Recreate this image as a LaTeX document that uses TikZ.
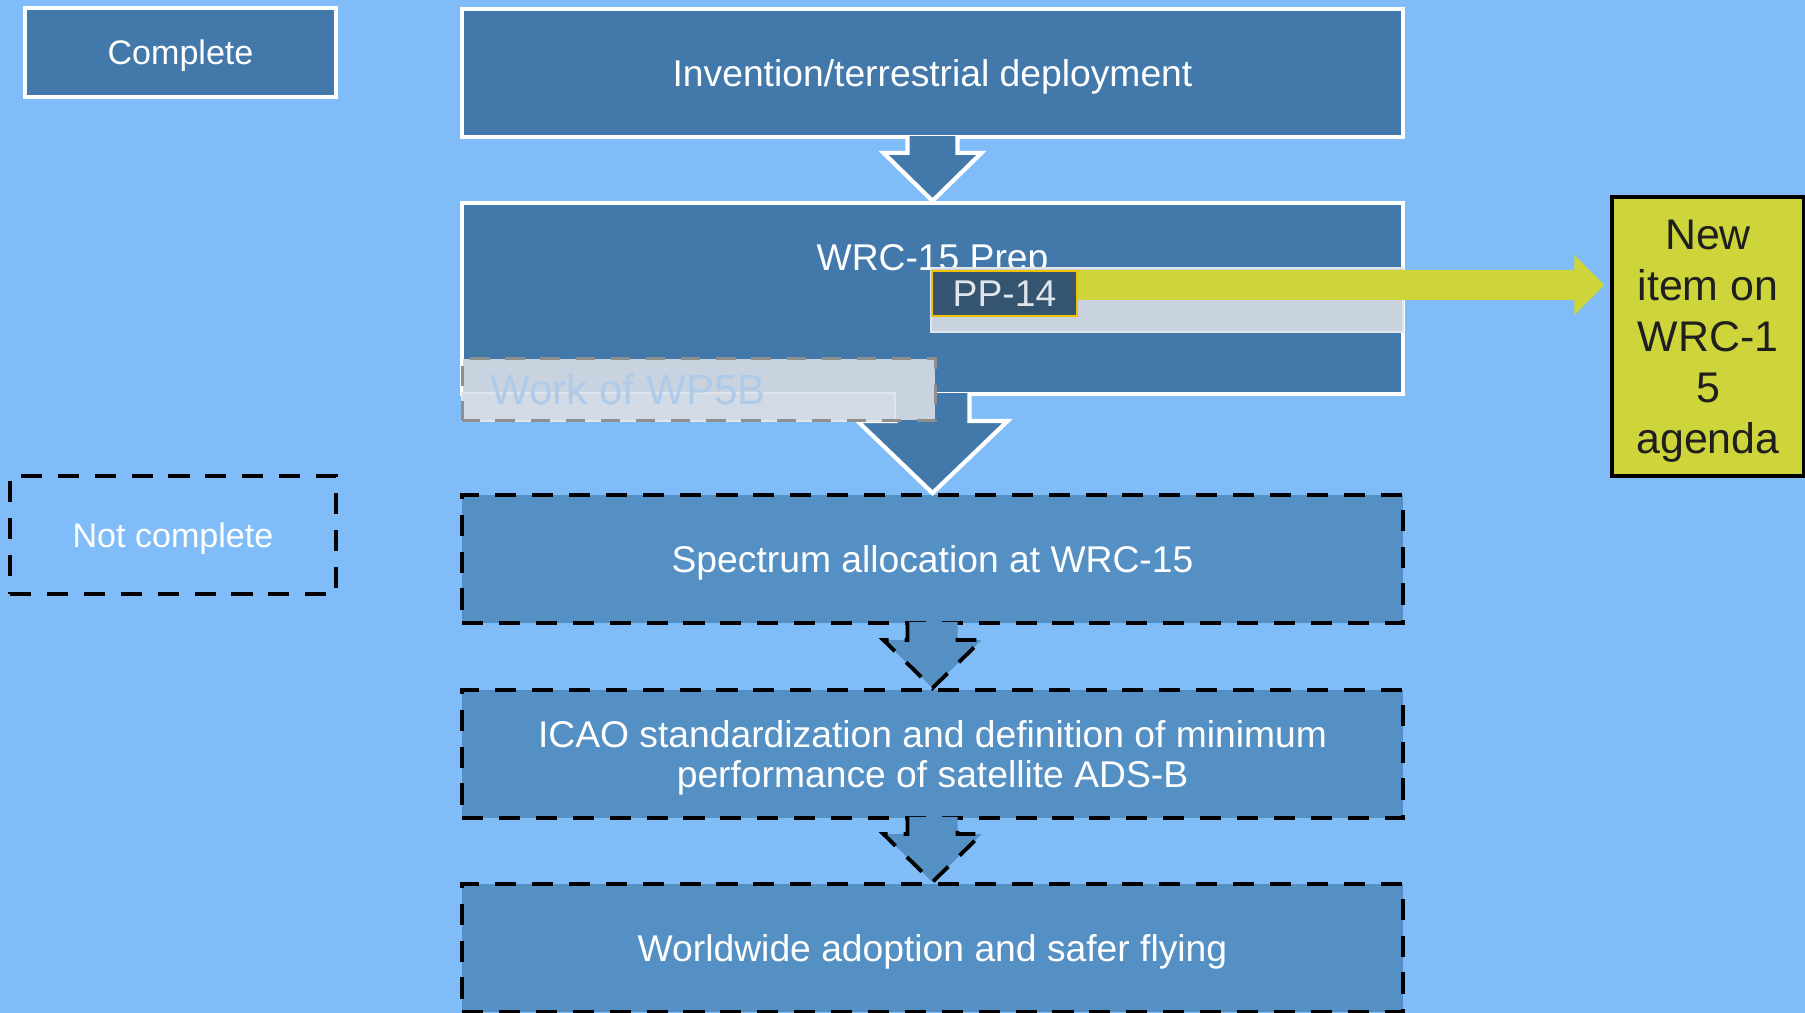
\documentclass[tikz,border=0pt]{standalone}
\usepackage{fontspec}
\setmainfont{Liberation Sans}
\usepackage{tikz}
\usetikzlibrary{arrows.meta, positioning, calc}
\usepackage{xcolor}
\definecolor{skyBack}{HTML}{80BDF8}
\definecolor{stageDone}{HTML}{4279AA}
\definecolor{stageTodo}{HTML}{5590C4}
\definecolor{ppDark}{HTML}{34546F}
\definecolor{ppGold}{HTML}{F2C200}
\definecolor{agendaGreen}{HTML}{CDD53A}
\definecolor{workGrey}{HTML}{C9D3DF}
\definecolor{workBand}{HTML}{D1DAE5}
\definecolor{workRim}{HTML}{DFE5EC}
\definecolor{workDash}{HTML}{8F8F8F}
\definecolor{workText}{HTML}{AFCBEA}
\tikzset{%
	every stage/.style={
		rectangle,
		minimum width=94.1mm,
		minimum height=12.8mm,
		inner sep=0pt,
		align=center,
		text=white,
		text depth=0pt,
		font=\fontsize{10.6}{11.1}\selectfont
	},
	stage done/.style={
		every stage,
		fill=stageDone,
		draw=white,
		line width=1.2pt
	},
	stage todo/.style={
		every stage,
		fill=stageTodo,
		draw=black,
		line width=1.1pt,
		dash pattern=on 6pt off 4.5pt
	},
	done arrow/.style={
		fill=stageDone,
		draw=white,
		line width=1.2pt
	},
	todo arrow/.style={
		fill=stageTodo,
		draw=black,
		line width=1.1pt,
		dash pattern=on 6pt off 4.5pt
	},
	agenda box/.style={
		rectangle,
		fill=agendaGreen,
		draw=black,
		line width=0.9pt,
		minimum width=19.2mm,
		minimum height=27.9mm,
		inner sep=0pt,
		align=center,
		text=black!88,
		text depth=0pt,
		font=\fontsize{12.2}{14.5}\selectfont
	},
}

\begin{document}
\begin{tikzpicture}[x=0.1mm, y=-0.1mm]
	% Define the arrow head length of the small block arrows
	\newcommand{\headLength}{48}
	
	% Background
	\useasboundingbox (0,0) rectangle (1805,1013);
	\fill[skyBack] (0,0) rectangle (1805,1013);
	
	% Legend
	\node[stage done, minimum width=31.1mm, minimum height=8.9mm, line width=1.4pt,
		font=\fontsize{9.7}{11}\selectfont] (complete) at (180.5,52.5) {Complete};
	\node[stage todo, fill=none, minimum width=32.6mm, minimum height=11.8mm,
		font=\fontsize{9.7}{11}\selectfont] (notComplete) at (173,535) {Not complete};
	
	% Stages
	\node[stage done] (invention) at (932.5,73) {Invention/terrestrial deployment};
	\node[stage done, minimum height=19.1mm] (prep) at (932.5,298.5) {};
	\node[text=white, inner sep=0pt, anchor=base, font=\fontsize{10.6}{11.1}\selectfont]
		(prepTitle) at ($(prep.north)+(0,70)$) {WRC-15 Prep};
	\node[stage todo] (spectrum) at (932.5,559) {Spectrum allocation at WRC-15};
	\node[stage todo] (icao) at (932.5,754) {ICAO standardization and definition of minimum\\performance of satellite ADS-B};
	\node[stage todo] (worldwide) at (932.5,948) {Worldwide adoption and safer flying};
	
	% Agenda box
	\node[agenda box] (newItem) at (1708,336.5) {New\\item on\\WRC-1\\5\\agenda};
	
	% Block arrows between the stages
	\foreach \from/\to/\shaft/\head/\len in {invention/prep/25/49/48, prep/spectrum/37/75/72} {
		\path[done arrow] ($(\from.south)+(-\shaft,-3)$) -- ($(\to.north)+(-\shaft,-\len)$)
			-- ($(\to.north)+(-\head,-\len)$) -- (\to.north) -- ($(\to.north)+(\head,-\len)$)
			-- ($(\to.north)+(\shaft,-\len)$) -- ($(\from.south)+(\shaft,-3)$);
	}
	\foreach \from/\to in {spectrum/icao, icao/worldwide} {
		\path[todo arrow] ($(\from.south)+(-25,-3)$) -- ($(\to.north)+(-25,-\headLength)$)
			-- ($(\to.north)+(-49,-\headLength)$) -- (\to.north) -- ($(\to.north)+(49,-\headLength)$)
			-- ($(\to.north)+(25,-\headLength)$) -- ($(\from.south)+(25,-3)$);
	}
	
	% PP-14 bar and arrow to the agenda
	\node[fill=workGrey, draw=workRim, line width=0.6pt, minimum width=47.2mm, minimum height=6.4mm,
		inner sep=0pt] (ppBar) at (1167,300) {};
	\node[fill=ppDark, draw=ppGold, line width=0.6pt, minimum width=14.5mm, minimum height=4.5mm,
		inner sep=0pt, text=workRim, font=\fontsize{10.6}{11.1}\selectfont] (pp14) at (1004.5,293.5) {PP-14};
	\coordinate (ppTip) at ($(newItem.west |- pp14.north)+(-6,15)$);
	\fill[agendaGreen] (pp14.north east) -- ($(ppTip)+(-30,-15)$) -- ($(ppTip)+(-30,-30)$) -- (ppTip)
		-- ($(ppTip)+(-30,30)$) -- ($(ppTip)+(-30,15)$) -- ($(pp14.north east)+(0,30)$) -- cycle;
	
	% Work of WP5B
	\node[fill=workGrey, minimum width=47.2mm, minimum height=6.1mm, inner sep=0pt] (wp5b) at (699,389.5) {};
	\filldraw[fill=workBand, draw=workRim, line width=0.6pt] ($(wp5b.south west)+(0,0)$) rectangle ($(wp5b.south west)+(433,-28)$);
	\draw[workDash, line width=0.9pt, dash pattern=on 5.5pt off 4.5pt] (wp5b.south west) rectangle (wp5b.north east);
	\node[anchor=west, inner sep=0pt, text=workText, font=\fontsize{12}{14}\selectfont]
		(wp5bText) at ($(wp5b.west)+(27,0)$) {Work of WP5B};
\end{tikzpicture}
\end{document}
